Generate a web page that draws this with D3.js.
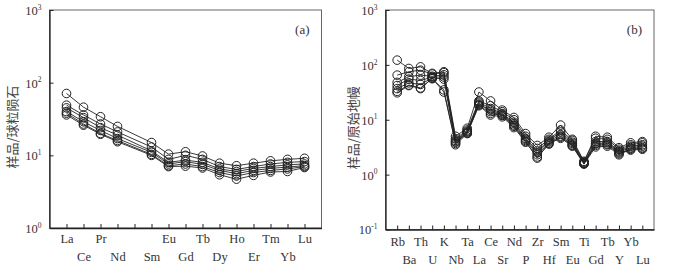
<!DOCTYPE html>
<html>
<head>
<meta charset="utf-8">
<script src="https://cdn.jsdelivr.net/npm/d3@7"></script>
<style>
  body { margin: 0; background: #fff; }
  svg { display: block; }
  text { font-family: "Liberation Serif", "DejaVu Serif", serif; fill: #333; }
  .cjk { font-family: "Noto Sans CJK SC", sans-serif; fill: #444; }
</style>
</head>
<body>
<div id="chart"></div>
<script>
// Panel (a): chondrite-normalised REE
var reeElements = ['La','Ce','Pr','Nd','Pm','Sm','Eu','Gd','Tb','Dy','Ho','Er','Tm','Yb','Lu']
var reeSeries = [
  [71, 46, 34, 25, null, 15, 10.4, 11.2, 9.8, 7.8, 7.2, 7.8, 8.4, 8.8, 9.1],
  [49, 36, 27, 21, null, 13, 8.8, 10, 8.8, 7.0, 6.4, 7.0, 7.6, 8.0, 8.2],
  [45, 33, 24, 19, null, 11.5, 8.0, 8.6, 8.0, 6.5, 6.0, 6.6, 7.0, 7.4, 7.6],
  [40, 29, 22, 17, null, 11, 7.6, 8.2, 7.5, 6.2, 5.6, 6.2, 6.6, 6.9, 7.2],
  [38, 27, 20, 16, null, 10.3, 7.2, 7.6, 7.0, 5.8, 5.2, 5.8, 6.2, 6.5, 7.0],
  [36, 26, 19.5, 15.4, null, 10, 7.0, 7.1, 6.7, 5.4, 4.7, 5.3, 5.9, 6.0, 6.8]
]

// Panel (b): primitive-mantle-normalised spider diagram
var traceElements = ['Rb','Ba','Th','U','K','Nb','Ta','La','Ce','Sr','Nd','P','Zr','Hf','Sm','Eu','Ti','Gd','Tb','Y','Yb','Lu']
var traceSeries = [
  [122, 86, 92, 70, 75, 5.0, 7.0, 32, 22, 15, 11, 5.6, 3.4, 4.8, 8.0, 4.4, 1.75, 5.0, 4.8, 3.1, 3.8, 4.0],
  [65, 75, 80, 68, 72, 4.5, 6.5, 22, 18, 14, 10, 5.0, 3.0, 4.4, 6.5, 4.2, 1.7, 4.6, 4.4, 2.9, 3.5, 3.8],
  [48, 61, 65, 62, 66, 4.2, 6.2, 21, 16, 13, 9.0, 4.6, 2.7, 4.2, 6.0, 3.9, 1.65, 4.0, 4.0, 2.7, 3.3, 3.5],
  [42, 55, 52, 60, 60, 4.0, 6.0, 19, 15, 12.5, 8.5, 4.4, 2.5, 4.0, 5.4, 3.7, 1.6, 3.7, 3.8, 2.6, 3.1, 3.3],
  [37, 47, 44, 58, 55, 3.7, 5.8, 18.5, 13, 12, 8.0, 4.2, 2.3, 3.8, 5.0, 3.5, 1.6, 3.4, 3.5, 2.4, 3.0, 3.1],
  [33, 43, 38, 56, 35, 3.5, 5.6, 18, 12.2, 11.3, 7.2, 3.9, 2.1, 3.6, 4.8, 3.3, 1.55, 3.2, 3.3, 2.3, 2.9, 3.0],
  [31, 42, 37, 57, 32, 3.9, 5.7, 20, 14, 12, 7.6, 4.0, 2.0, 3.7, 4.6, 3.4, 1.62, 3.6, 3.6, 2.5, 2.8, 2.9]
]

var reeYTicks = [0, 1, 2, 3]
var traceYTicks = [-1, 0, 1, 2, 3]

var svg = d3.select('#chart').append('svg')
  .attr('width', 682)
  .attr('height', 273)

function drawPanel(opts) {
  var x = d3.scalePoint()
    .domain(opts.elements)
    .range([opts.left, opts.right])
    .padding(1)

  var y = d3.scaleLog()
    .domain([Math.pow(10, opts.yTicks[0]), Math.pow(10, opts.yTicks[opts.yTicks.length - 1])])
    .range([opts.bottom, opts.top])

  var g = svg.append('g')

  // frame
  g.append('rect')
    .attr('x', opts.left).attr('y', opts.top)
    .attr('width', opts.right - opts.left).attr('height', opts.bottom - opts.top)
    .attr('fill', 'none').attr('stroke', '#666').attr('stroke-width', 1)

  // x axis, ticks pointing inward, labels on two rows
  var xAxis = g.append('g')
    .attr('transform', 'translate(0,' + opts.bottom + ')')
    .call(d3.axisBottom(x).tickSize(-4).tickSizeOuter(0)
      .tickFormat(function(d) { return d === 'Pm' ? '' : d }))
  xAxis.select('.domain').attr('stroke', '#222').attr('stroke-width', 1.3)
  xAxis.selectAll('.tick line').attr('stroke', '#222')
  xAxis.selectAll('.tick text')
    .attr('font-size', 12.5)
    .attr('fill', '#333')
    .attr('font-family', '"Liberation Serif", serif')
    .attr('dy', null)
    .attr('y', function(d, i) { return i % 2 === 0 ? opts.row1 : opts.row2 })

  // y axis with 10^n labels
  var yAxis = g.append('g')
    .attr('transform', 'translate(' + opts.left + ',0)')
    .call(d3.axisLeft(y)
      .tickValues(opts.yTicks.map(function(e) { return Math.pow(10, e) }))
      .tickSize(-4).tickSizeOuter(0).tickFormat(''))
  yAxis.select('.domain').attr('stroke', '#222').attr('stroke-width', 1.3)
  yAxis.selectAll('.tick line').attr('stroke', '#222')
  var lab = yAxis.selectAll('.tick').append('text')
    .attr('x', -8)
    .attr('dy', '0.35em')
    .attr('text-anchor', 'end')
    .attr('font-size', 12.5)
    .attr('fill', '#333')
  lab.append('tspan').text('10')
  lab.append('tspan')
    .attr('font-size', 7.5)
    .attr('dy', '-0.7em')
    .text(function(d) { return Math.round(Math.log10(d)) })

  // y title
  svg.append('text')
    .attr('class', 'cjk')
    .attr('transform', 'translate(' + opts.titleX + ',' + ((opts.top + opts.bottom) / 2 + 8) + ') rotate(-90)')
    .attr('text-anchor', 'middle')
    .attr('font-size', 13)
    .text(opts.title)

  // panel tag
  g.append('text')
    .attr('x', opts.right - 12).attr('y', opts.top + 24)
    .attr('text-anchor', 'end')
    .attr('font-size', 13)
    .text(opts.tag)

  var line = d3.line()
    .x(function(d) { return x(d.el) })
    .y(function(d) { return y(d.v) })

  var pts = opts.series.map(function(s) {
    return s.map(function(v, i) { return {v: v, el: opts.elements[i]} })
      .filter(function(d) { return d.v != null })
  })

  pts.forEach(function(p) {
    g.append('path')
      .datum(p)
      .attr('fill', 'none')
      .attr('stroke', '#222')
      .attr('stroke-width', 0.9)
      .attr('d', line)
  })

  pts.forEach(function(p) {
    g.selectAll(null)
      .data(p)
      .enter().append('circle')
        .attr('cx', function(d) { return x(d.el) })
        .attr('cy', function(d) { return y(d.v) })
        .attr('r', 4.3)
        .attr('fill', 'none')
        .attr('stroke', '#222')
        .attr('stroke-width', 1)
  })
}

drawPanel({
  elements: reeElements, series: reeSeries, yTicks: reeYTicks,
  left: 49.5, right: 321.5, top: 10, bottom: 228,
  row1: 15, row2: 33, title: '样品/球粒陨石', titleX: 17, tag: '(a)'
})

drawPanel({
  elements: traceElements, series: traceSeries, yTicks: traceYTicks,
  left: 385.5, right: 654, top: 10, bottom: 229.5,
  row1: 16, row2: 34, title: '样品/原始地幔', titleX: 358, tag: '(b)'
})
</script>
</body>
</html>
